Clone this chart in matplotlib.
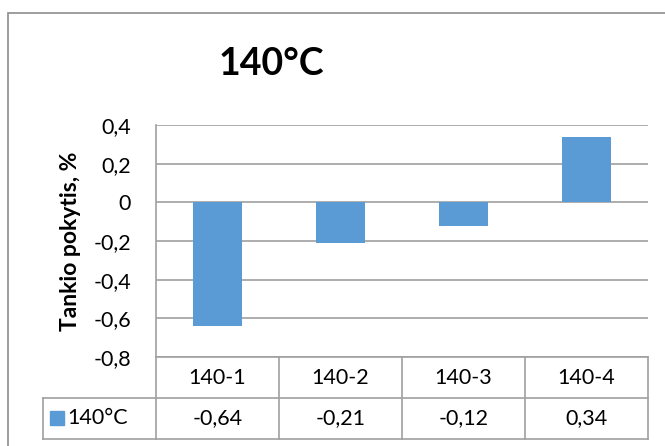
import numpy as np
import matplotlib.pyplot as plt
from matplotlib.lines import Line2D
from matplotlib.patches import Rectangle

categories = ["140-1", "140-2", "140-3", "140-4"]
values = [-0.64, -0.21, -0.12, 0.34]
series_name = "140°C"
title = "140°C"
ylabel = "Tankio pokytis, %"
yticks = [-0.8, -0.6, -0.4, -0.2, 0, 0.2, 0.4]

bar_color = "#5b9bd5"
grid_color = "#a0a0a0"
font = ["Lato", "DejaVu Sans"]

W, H = 665, 446
fig = plt.figure(figsize=(W / 100, H / 100), dpi=100)
plt.rcParams["font.family"] = font


def fx(px):
    return px / W


def fy(py):
    return 1 - py / H


# plot area in pixel coordinates
left, right, top, bottom = 156, 648, 125, 357
ax = fig.add_axes([fx(left), fy(bottom), fx(right - left), fy(top) - fy(bottom)])

x = np.arange(len(categories))
ax.bar(x, values, width=0.4, color=bar_color, zorder=3)
ax.set_xlim(-0.5, len(categories) - 0.5)
ax.set_ylim(min(yticks), max(yticks))
ax.set_yticks(yticks)
ax.set_yticklabels([("%g" % t).replace(".", ",") for t in yticks], fontsize=15.5)
ax.set_xticks([])
ax.tick_params(axis="y", length=0, pad=18)
ax.yaxis.grid(True, color=grid_color, linewidth=1.2, zorder=0)
for s in ["top", "right", "bottom"]:
    ax.spines[s].set_visible(False)
ax.spines["left"].set_color(grid_color)
ax.spines["left"].set_linewidth(1.2)
ax.set_ylabel(ylabel, fontsize=16.5, fontweight="bold", labelpad=9)

fig.text(fx(271), fy(64), title, fontsize=27, fontweight="bold",
         ha="center", va="center")

# outer chart border
fig.add_artist(Rectangle((fx(8), fy(H + 10)), 1.2, fy(13) - fy(H + 10),
                         transform=fig.transFigure, fill=False,
                         edgecolor="#8c8c8c", linewidth=1.2))

# data table below the plot
row1, row2, row3 = 357, 398, 439
col_w = (right - left) / len(categories)
cols = [left + i * col_w for i in range(len(categories) + 1)]
legend_left = 43


def hline(x0, x1, y):
    fig.add_artist(Line2D([fx(x0), fx(x1)], [fy(y), fy(y)], color=grid_color,
                          linewidth=1.2, transform=fig.transFigure))


def vline(xp, y0, y1):
    fig.add_artist(Line2D([fx(xp), fx(xp)], [fy(y0), fy(y1)], color=grid_color,
                          linewidth=1.2, transform=fig.transFigure))


hline(left, right, row1)
hline(legend_left, right, row2)
hline(legend_left, right, row3)
for c in cols:
    vline(c, row1, row3)
vline(legend_left, row2, row3)

for i, cat in enumerate(categories):
    cx = (cols[i] + cols[i + 1]) / 2
    fig.text(fx(cx), fy((row1 + row2) / 2), cat, fontsize=15.5,
             ha="center", va="center")
    fig.text(fx(cx), fy((row2 + row3) / 2), ("%g" % values[i]).replace(".", ","),
             fontsize=15.5, ha="center", va="center")

fig.add_artist(Rectangle((fx(50), fy(425)), fx(14), fy(411) - fy(425),
                         transform=fig.transFigure, color=bar_color))
fig.text(fx(67), fy((row2 + row3) / 2), series_name, fontsize=15.5,
         ha="left", va="center")

fig.savefig("out.png", dpi=100)
